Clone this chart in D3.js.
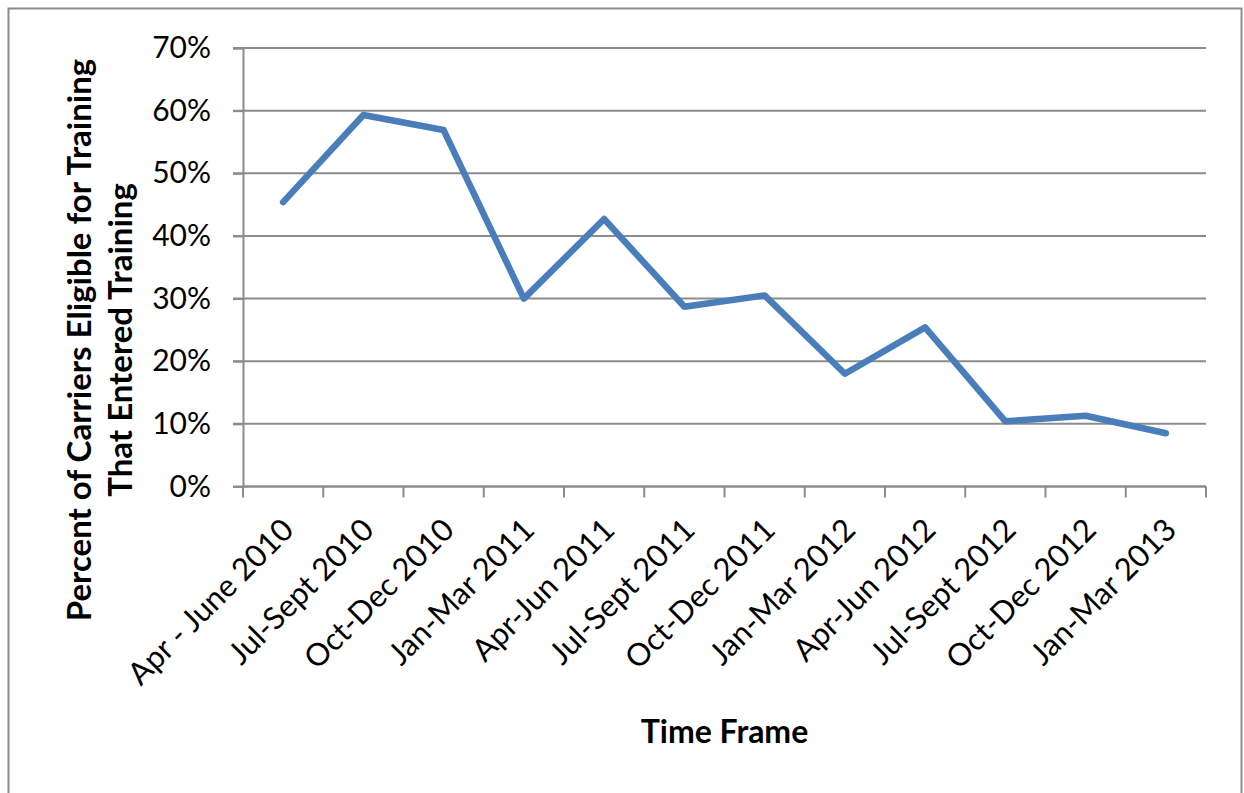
<!DOCTYPE html>
<html><head><meta charset="utf-8">
<script src="https://cdn.jsdelivr.net/npm/d3@7"></script>
<style>body{margin:0;background:#fff}svg{display:block}</style>
</head><body>
<svg id="c" width="1244" height="793"></svg>
<script>
const categories = ["Apr - June 2010","Jul-Sept 2010","Oct-Dec 2010","Jan-Mar 2011","Apr-Jun 2011","Jul-Sept 2011","Oct-Dec 2011","Jan-Mar 2012","Apr-Jun 2012","Jul-Sept 2012","Oct-Dec 2012","Jan-Mar 2013"];
const values = [0.454, 0.593, 0.569, 0.300, 0.427, 0.287, 0.305, 0.180, 0.254, 0.104, 0.113, 0.085];
const yTicks = [0, 0.1, 0.2, 0.3, 0.4, 0.5, 0.6, 0.7];

const svg = d3.select("#c");
const font = "Lato, 'Open Sans', sans-serif";
svg.append("rect").attr("x",8.5).attr("y",8.5).attr("width",1233).attr("height",800)
  .attr("fill","#fff").attr("stroke","#8c8c8c").attr("stroke-width",2);

const L=243, R=1206, T=48, B=486.5;
const x = d3.scaleBand().domain(categories).range([L,R]);
const y = d3.scaleLinear().domain([0,0.7]).range([B,T]);
const grid = "#8c8c8c";

// gridlines
svg.append("g").selectAll("line").data(yTicks).join("line")
  .attr("x1",L-10).attr("x2",R).attr("y1",d=>y(d)).attr("y2",d=>y(d))
  .attr("stroke",grid).attr("stroke-width",2);

// y axis
const ya = svg.append("g").attr("transform",`translate(${L},0)`)
  .call(d3.axisLeft(y).tickValues(yTicks).tickFormat(d3.format(".0%")).tickSize(10).tickPadding(22));
ya.select(".domain").attr("stroke",grid).attr("stroke-width",2);
ya.selectAll(".tick line").attr("stroke",grid).attr("stroke-width",2);
ya.selectAll("text").attr("font-family",font).attr("font-size",30).attr("fill","#000");

// x axis
const xa = svg.append("g").attr("transform",`translate(0,${B})`)
  .call(d3.axisBottom(x).tickSize(0).tickFormat(""));
xa.select(".domain").attr("stroke",grid).attr("stroke-width",2).attr("d",`M${L},0H${R}`);
const edges = d3.range(categories.length+1).map(i=>L+i*x.step());
svg.append("g").selectAll("line").data(edges).join("line")
  .attr("x1",d=>d).attr("x2",d=>d).attr("y1",B).attr("y2",B+11)
  .attr("stroke",grid).attr("stroke-width",2);

svg.append("g").selectAll("text").data(categories).join("text")
  .attr("transform",d=>`translate(${x(d)+x.bandwidth()/2-3},${B+30}) rotate(-45)`)
  .attr("text-anchor","end").attr("dy","0.7em")
  .attr("font-family",font).attr("font-size",31).attr("fill","#000").text(d=>d);

// line
const line = d3.line().x((d,i)=>x(categories[i])+x.bandwidth()/2).y(d=>y(d));
svg.append("path").datum(values).attr("d",line).attr("fill","none")
  .attr("stroke","#4a7ebb").attr("stroke-width",6.5).attr("stroke-linejoin","round").attr("stroke-linecap","round");

// titles
svg.append("text").attr("x",(L+R)/2).attr("y",743).attr("text-anchor","middle")
  .attr("font-family",font).attr("font-weight","bold").attr("font-size",32).text("Time Frame");
const yt = svg.append("text").attr("transform","translate(0,340) rotate(-90)")
  .attr("text-anchor","middle").attr("font-family",font).attr("font-weight","bold").attr("font-size",33);
yt.append("tspan").attr("x",0).attr("y",91).text("Percent of Carriers Eligible for Training");
yt.append("tspan").attr("x",0).attr("y",132).text("That Entered Training");
</script>
</body></html>
